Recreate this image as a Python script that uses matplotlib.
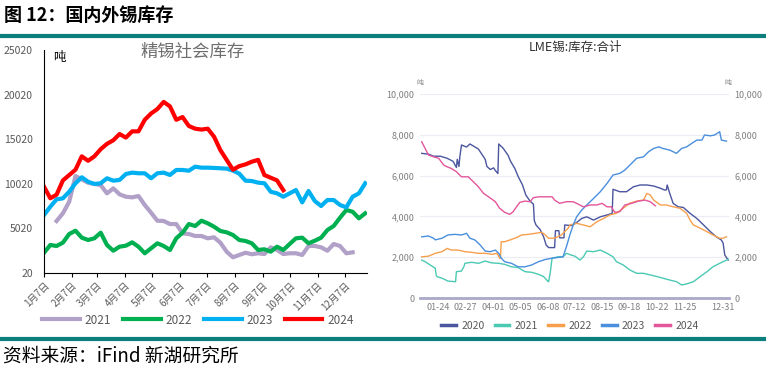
import matplotlib
matplotlib.use("Agg")
import matplotlib.pyplot as plt
from matplotlib.lines import Line2D

plt.rcParams['font.family'] = ['Noto Sans CJK SC', 'DejaVu Sans']
plt.rcParams['axes.unicode_minus'] = False

# ---------------- 左图：精锡社会库存（周度，吨）----------------
# 周序号 k -> 日期 = 1月7日 + 7k
inv_2021 = [5850, 6710, 8010, 10890, 10520, 10140, 10000, 9880, 8950, 9510, 8840, 8570,
            8500, 8650, 7640, 6780, 5880, 5850, 5510, 5510, 4470, 4390, 4170, 4170,
            3910, 4020, 3420, 2410, 1780, 2040, 2290, 2120, 2230, 2150, 2900, 2600,
            2150, 2230, 2230, 2040, 3050, 3050, 2900, 2520, 3270, 3050, 2230, 2340]
inv_2022 = [2290, 3160, 3050, 3420, 4390, 4760, 3980, 3720, 3910, 4540, 3160, 2520,
            2970, 3080, 3460, 2970, 2230, 2790, 3350, 3050, 2600, 3910, 4540, 5510,
            5290, 5880, 5590, 5210, 4730, 4580, 4280, 3720, 3610, 3350, 2600, 2680,
            2410, 2970, 2600, 3270, 3910, 3980, 3350, 3640, 3980, 4840, 5290, 6220,
            7080, 6890, 6150, 6710]
inv_2023 = [6520, 7450, 8280, 8390, 9130, 10080, 10750, 10250, 10000, 10080, 10640, 10370,
            10450, 11120, 11270, 11200, 11200, 10640, 11200, 11270, 11010, 11570, 11570, 11490,
            11940, 11830, 11830, 11800, 11760, 11720, 11500, 11160, 10370, 10330, 10150, 10080,
            9130, 8950, 8570, 8950, 9320, 7940, 9210, 8090, 7530, 8200, 8200, 7640,
            7380, 8570, 8950, 10080]
inv_2024 = [9700, 8400, 8800, 10400, 11000, 11600, 13100, 12600, 13100, 13900, 14500, 14900,
            15600, 15200, 15900, 15900, 17200, 17900, 18400, 19200, 18700, 17200, 17500, 16500,
            16200, 16100, 16200, 15300, 13800, 12700, 11600, 12000, 12200, 12500, 12700, 11000,
            10700, 10400, 9300]
start_2021 = 2  # 2021年数据从第3周开始

month_days = [7, 38, 66, 97, 127, 158, 188, 219, 250, 280, 311, 341]
month_labels = [f"{m}月7日" for m in range(1, 13)]

# ---------------- 右图：LME锡库存（日度，吨）----------------
lme_2020_day = [3, 11, 17, 25, 33, 40, 44, 45, 47, 48, 50, 56, 60, 64, 70, 74, 78, 80, 84, 88,
                90, 93, 94, 99, 105, 108, 113, 117, 122, 126, 131, 135, 136, 138, 143, 147, 150,
                153, 160, 161, 165, 166, 171, 172, 180, 186, 192, 198, 206, 214, 222, 228, 229,
                237, 245, 253, 261, 269, 277, 285, 290, 292, 293, 296, 300, 306, 312, 320, 328,
                336, 344, 351, 357, 359, 361, 365]
lme_2020 = [7090, 7050, 6950, 6950, 6850, 6700, 6400, 6800, 6450, 6900, 7500, 7400, 7550, 7450,
            7300, 7050, 6800, 6450, 6300, 6380, 6250, 6100, 7550, 7350, 7000, 6700, 6350, 5950,
            5550, 5050, 4750, 4600, 3800, 3580, 3350, 3000, 2600, 2470, 2470, 3300, 3300, 2950,
            2950, 3580, 3550, 3700, 3900, 3980, 3820, 3980, 4070, 4150, 5330, 5210, 5210, 5450,
            5540, 5540, 5490, 5380, 5290, 5300, 5540, 5130, 4640, 4470, 4440, 4150, 3900, 3580,
            3250, 3000, 2840, 2700, 2110, 1860]

lme_2021_day = [3, 7, 13, 19, 20, 21, 27, 34, 42, 43, 44, 50, 53, 54, 62, 70, 78, 86, 94, 101,
                109, 117, 125, 133, 141, 147, 152, 153, 155, 157, 164, 170, 174, 180, 184, 190,
                194, 198, 206, 214, 222, 229, 233, 241, 249, 257, 265, 273, 281, 288, 296, 304,
                310, 316, 324, 332, 340, 347, 355, 363, 366]
lme_2021 = [1860, 1780, 1620, 1460, 1150, 1050, 970, 830, 800, 800, 1290, 1320, 1550, 1700,
            1750, 1700, 1810, 1720, 1700, 1650, 1530, 1490, 1290, 1260, 1160, 1050, 820, 800,
            1290, 1950, 2020, 2020, 2190, 2100, 2050, 1860, 2020, 2300, 2270, 2350, 2190, 2020,
            1780, 1620, 1370, 1210, 1210, 1130, 1050, 970, 880, 800, 640, 690, 800, 1050, 1290,
            1530, 1700, 1860, 1910]

lme_2022_day = [3, 11, 19, 27, 33, 38, 46, 54, 62, 70, 78, 86, 92, 95, 96, 97, 101, 107, 113,
                117, 121, 129, 137, 145, 149, 153, 160, 168, 176, 178, 186, 194, 202, 210, 218,
                225, 233, 241, 249, 257, 265, 269, 273, 277, 285, 292, 300, 308, 316, 320, 324,
                332, 340, 347, 355, 359, 363]
lme_2022 = [2020, 2050, 2190, 2270, 2430, 2350, 2350, 2270, 2240, 2190, 2190, 2140, 2190, 1950,
            1950, 2760, 2760, 2840, 2930, 3000, 3090, 3120, 3170, 3220, 3090, 2930, 2930, 3090,
            3420, 3580, 3660, 3580, 3490, 3740, 3900, 4070, 4150, 4400, 4650, 4750, 4800, 5130,
            5050, 4800, 4560, 4560, 4470, 4400, 4150, 3820, 3580, 3420, 3250, 3090, 2930, 2930,
            3000]

lme_2023_day = [3, 11, 17, 19, 27, 34, 42, 50, 56, 60, 66, 72, 78, 84, 90, 94, 97, 101, 109,
                117, 125, 133, 141, 149, 157, 164, 170, 174, 178, 182, 186, 192, 198, 206, 214,
                222, 229, 237, 243, 249, 257, 265, 271, 277, 283, 288, 296, 304, 310, 316, 322,
                328, 334, 337, 344, 349, 355, 357, 363]
lme_2023 = [3000, 3040, 2930, 2850, 2930, 3090, 3120, 3090, 3170, 2930, 2840, 2600, 2300, 2270,
            2350, 2190, 1950, 1780, 1700, 1530, 1530, 1620, 1780, 1890, 1950, 1990, 2020, 2520,
            3090, 3580, 3980, 4310, 4560, 4880, 5210, 5620, 6030, 6110, 6270, 6520, 6850, 6920,
            7170, 7330, 7410, 7330, 7250, 7090, 7330, 7410, 7580, 7740, 7740, 7990, 7950, 7990,
            8150, 7740, 7690]

lme_2024_day = [3, 5, 11, 17, 23, 29, 33, 38, 44, 50, 58, 64, 70, 76, 82, 90, 95, 101, 107, 111,
                115, 119, 125, 131, 135, 141, 149, 157, 160, 166, 174, 182, 186, 194, 202, 210,
                216, 222, 227, 231, 237, 243, 251, 259, 267, 273, 279]
lme_2024 = [7660, 7500, 7010, 6920, 6850, 6520, 6430, 6350, 6190, 5940, 5940, 5700, 5450, 5130,
            4960, 4720, 4400, 4200, 4100, 4230, 4470, 4690, 4750, 4720, 4920, 4960, 4960, 4960,
            4800, 4640, 4720, 4720, 4640, 4470, 4560, 4560, 4640, 4470, 4470, 4200, 4230, 4560,
            4640, 4750, 4800, 4720, 4520]

lme_tick_pos = [22, 55, 87, 119, 152, 183, 216, 248, 281, 314, 359]
lme_tick_labels = ["01-24", "02-27", "04-01", "05-05", "06-08", "07-12", "08-15",
                   "09-18", "10-22", "11-25", "12-31"]

W, H = 766, 370
fig = plt.figure(figsize=(W / 100, H / 100), dpi=100)
fig.patch.set_facecolor('white')

# 标题与分隔线
fig.text(4 / W, 1 - 15 / H, "图 12：国内外锡库存", fontsize=13, fontweight='bold',
         ha='left', va='center', color='black')
teal = '#0B7F7B'
fig.add_artist(Line2D([0, 1], [1 - 36 / H] * 2, transform=fig.transFigure, color=teal, lw=3))
fig.add_artist(Line2D([0, 1], [1 - 339 / H] * 2, transform=fig.transFigure, color=teal, lw=3))
fig.text(3 / W, 1 - 356 / H, "资料来源：iFind 新湖研究所", fontsize=13.5,
         ha='left', va='center', color='black')

# ---------------- 左图 ----------------
ax1 = fig.add_axes([44 / W, 97 / H, 323 / W, 223 / H])
week_day = lambda n, s=0: [7 + 7 * (s + i) for i in range(n)]
c21, c22, c23, c24 = '#B1A0C7', '#00B050', '#00B0F0', '#FF0000'
ax1.plot(week_day(len(inv_2021), start_2021), inv_2021, color=c21, lw=3, label='2021')
ax1.plot(week_day(len(inv_2022)), inv_2022, color=c22, lw=3, label='2022')
ax1.plot(week_day(len(inv_2023)), inv_2023, color=c23, lw=3, label='2023')
ax1.plot(week_day(len(inv_2024)), inv_2024, color=c24, lw=3, label='2024')
ax1.set_xlim(7, 366)
ax1.set_ylim(20, 25020)
ax1.set_yticks(range(20, 25021, 5000))
ax1.set_xticks(month_days)
ax1.set_xticklabels(month_labels, rotation=45, ha='right', rotation_mode='anchor')
ax1.tick_params(axis='x', labelsize=7, colors='#595959', length=3, color='black', pad=2)
ax1.tick_params(axis='y', labelsize=7.5, colors='#595959', length=0, pad=8)
for s in ['top', 'right']:
    ax1.spines[s].set_visible(False)
ax1.spines['left'].set_color('black')
ax1.spines['bottom'].set_color('black')
ax1.patch.set_alpha(0)
fig.text(193 / W, 1 - 52 / H, "精锡社会库存", fontsize=12.5, color='#6E6E6E', ha='center', va='center')
fig.text(53 / W, 1 - 58 / H, "吨", fontsize=9, color='black', ha='left', va='center')
ax1.legend(loc='center', bbox_to_anchor=(198 / W, 1 - 320 / H), bbox_transform=fig.transFigure,
           ncol=4, frameon=False, fontsize=8.5, handlelength=3.2, handletextpad=0.4,
           columnspacing=1.0, labelcolor='#595959')

# ---------------- 右图 ----------------
ax2 = fig.add_axes([420 / W, 72 / H, 309 / W, 204 / H])
r20, r21, r22, r23, r24 = '#4B569F', '#4CC9B3', '#F6A04D', '#4A8FDD', '#E3569A'
ax2.plot(lme_2020_day, lme_2020, color=r20, lw=1, label='2020')
ax2.plot(lme_2021_day, lme_2021, color=r21, lw=1, label='2021')
ax2.plot(lme_2022_day, lme_2022, color=r22, lw=1, label='2022')
ax2.plot(lme_2023_day, lme_2023, color=r23, lw=1, label='2023')
ax2.plot(lme_2024_day, lme_2024, color=r24, lw=1, label='2024')
ax2.set_xlim(1, 366)
ax2.set_ylim(0, 10000)
ax2.set_yticks(range(0, 10001, 2000))
ax2.yaxis.set_major_formatter(plt.FuncFormatter(lambda v, p: format(int(v), ',')))
ax2.set_xticks(lme_tick_pos)
ax2.set_xticklabels(lme_tick_labels)
ax2.tick_params(axis='both', labelsize=6.5, colors='#808080', length=0)
ax2.tick_params(axis='y', labelright=True, right=False, pad=4)
ax2.grid(axis='y', color='#ECECF4', lw=0.8)
ax2.set_axisbelow(True)
for s in ['top', 'right', 'left']:
    ax2.spines[s].set_visible(False)
ax2.spines['bottom'].set_color('#A9A9C9')
ax2.spines['bottom'].set_linewidth(2)
fig.text(575 / W, 1 - 47 / H, "LME锡:库存:合计", fontsize=9, color='#333333', ha='center', va='center')
fig.text(420 / W, 1 - 83 / H, "吨", fontsize=5, color='#808080', ha='center', va='center')
fig.text(728 / W, 1 - 83 / H, "吨", fontsize=5, color='#808080', ha='center', va='center')
ax2.legend(loc='center', bbox_to_anchor=(570 / W, 1 - 326 / H), bbox_transform=fig.transFigure,
           ncol=5, frameon=False, fontsize=7.5, handlelength=1.4, handletextpad=0.5,
           columnspacing=1.0, labelcolor='#595959')
for ln in ax2.get_legend().get_lines():
    ln.set_linewidth(2.5)

fig.savefig('out.png', dpi=100, facecolor='white')
